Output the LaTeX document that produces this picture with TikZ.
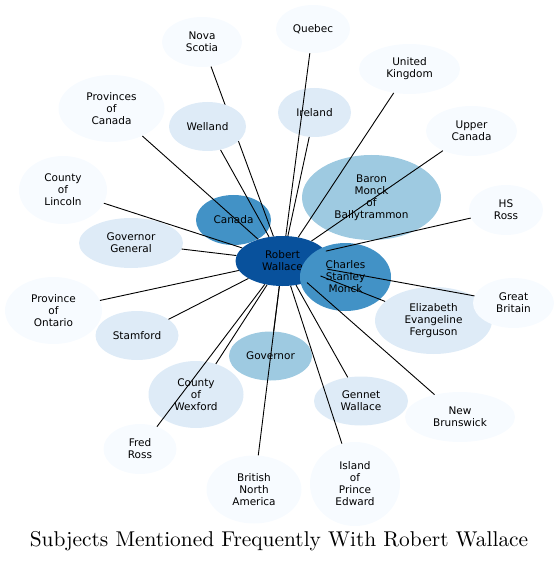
\documentclass[tikz,border=0pt]{standalone}
\usepackage{fontspec}
\usetikzlibrary{shapes.geometric}
\newfontfamily\nodefont{DejaVu Sans}
\definecolor{bA}{HTML}{F7FBFF}
\definecolor{bB}{HTML}{DEEBF7}
\definecolor{bC}{HTML}{9ECAE1}
\definecolor{bD}{HTML}{4292C6}
\definecolor{bE}{HTML}{08519C}
\pgfdeclarelayer{front}
\pgfdeclarelayer{top}
\pgfsetlayers{main,front,top}
\tikzset{
  subj/.style n args={3}{ellipse, inner sep=0pt, fill=#1, draw=none,
    minimum width=#2pt, minimum height=#3pt, align=center, text=black,
    font=\nodefont\fontsize{10.5}{12}\selectfont},
  link/.style={draw=black, line width=0.9pt},
}
\begin{document}
\begin{tikzpicture}[x=1pt,y=-1pt]
\useasboundingbox (0,0) rectangle (559,561);
\node[subj={bA}{80}{50}] (nova) at (202,42) {Nova\\Scotia};
\node[subj={bA}{74}{48}] (quebec) at (313,29) {Quebec};
\node[subj={bA}{106}{67}] (provc) at (111.5,108.5) {Provinces\\of\\Canada};
\node[subj={bB}{73}{49}] (ireland) at (314.5,112.5) {Ireland};
\node[subj={bA}{101}{50}] (uk) at (409.5,69) {United\\Kingdom};
\node[subj={bA}{91}{50}] (upper) at (471.5,131) {Upper\\Canada};
\node[subj={bC}{139}{85}] (baron) at (371.5,197.5) {Baron\\Monck\\of\\Ballytrammon};
\node[subj={bA}{88}{68}] (lincoln) at (63,190) {County\\of\\Lincoln};
\node[subj={bD}{75}{50}] (canada) at (233.5,220) {Canada};
\node[subj={bB}{104}{50}] (gg) at (131,243) {Governor\\General};
\node[subj={bA}{74}{50}] (hsross) at (506,210) {HS\\Ross};
\node[subj={bE}{94}{50}] (rw) at (282.5,261) {Robert\\Wallace};
\node[subj={bD}{91}{68}] (charles) at (345.5,277) {Charles\\Stanley\\Monck};
\node[subj={bB}{117}{67}] (eliz) at (433.5,320.5) {Elizabeth\\Evangeline\\Ferguson};
\node[subj={bA}{81}{50}] (gb) at (513.5,303) {Great\\Britain};
\node[subj={bA}{97}{67}] (ontario) at (53.5,310.5) {Province\\of\\Ontario};
\node[subj={bB}{83}{49}] (stamford) at (137,335.5) {Stamford};
\node[subj={bC}{83}{49}] (governor) at (270.5,356) {Governor};
\node[subj={bB}{95}{67}] (wexford) at (196,394.5) {County\\of\\Wexford};
\node[subj={bB}{94}{49}] (gennet) at (361,401) {Gennet\\Wallace};
\node[subj={bA}{110}{50}] (nb) at (460,417) {New\\Brunswick};
\node[subj={bA}{73}{50}] (fred) at (140,449) {Fred\\Ross};
\node[subj={bA}{95}{68}] (bna) at (254,489.5) {British\\North\\America};
\node[subj={bA}{90}{84}] (island) at (355,484) {Island\\of\\Prince\\Edward};
\begin{pgfonlayer}{top}
\node[subj={bB}{77}{49}] (welland) at (207.5,126.5) {Welland};
\end{pgfonlayer}
\begin{pgfonlayer}{front}
\foreach \t in {nova,quebec,provc,welland,ireland,uk,upper,lincoln,gg,hsross,gb,ontario,eliz,stamford,governor,wexford,gennet,nb,fred,bna,island}
  \draw[link] (rw) -- (\t);
\end{pgfonlayer}
\node[anchor=base, inner sep=0pt] (title) at (279,546) {\scalebox{2.14}{\fontsize{10}{12}\selectfont Subjects Mentioned Frequently With Robert Wallace}};
\end{tikzpicture}
\end{document}
